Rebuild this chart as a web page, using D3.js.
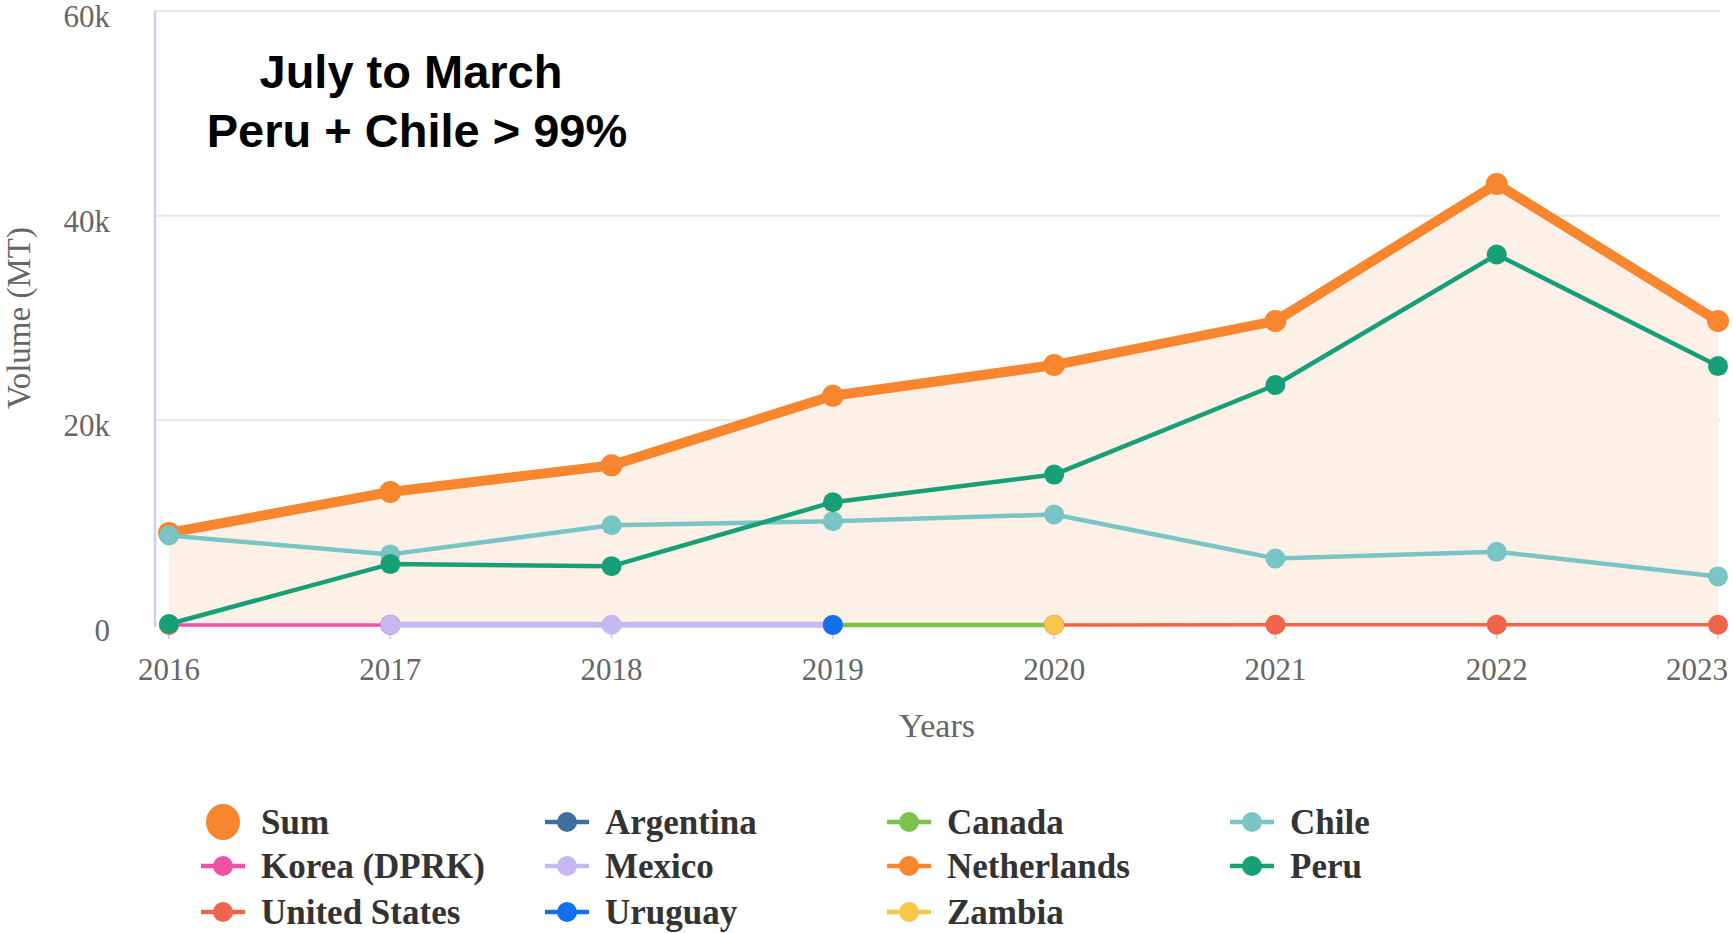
<!DOCTYPE html>
<html><head><meta charset="utf-8">
<script src="https://cdn.jsdelivr.net/npm/d3@7"></script>
<style>html,body{margin:0;padding:0;background:#fff;}svg{display:block;}</style>
</head><body>
<svg id="c" width="1733" height="933"></svg>
<script>
const years = [2016, 2017, 2018, 2019, 2020, 2021, 2022, 2023];
const yTicks = [0, 20000, 40000, 60000];
const sumVals = [9000, 13000, 15600, 22400, 25400, 29700, 43100, 29700];
const argentina = [null, 30, null, null, null, null, null, null];
const canada = [null, null, null, 10, 10, null, null, null];
const chile = [8750, 6900, 9750, 10150, 10800, 6500, 7150, 4750];
const korea = [0, 0, null, null, null, null, null, null];
const mexico = [null, 20, 20, 20, null, null, null, null];
const netherlands = [40, null, null, null, null, null, null, null];
const peru = [100, 5950, 5750, 12000, 14700, 23450, 36200, 25300];
const unitedStates = [null, null, null, null, 10, 20, 30, 20];
const uruguay = [null, null, null, 10, null, null, null, null];
const zambia = [null, null, null, null, 10, null, null, null];

const series = [
  {name: "Sum", values: sumVals, color: "#f7862f", lw: 10, r: 11},
  {name: "Argentina", values: argentina, color: "#3d6f9e", lw: 4.5, r: 10},
  {name: "Canada", values: canada, color: "#7cc24f", lw: 4.5, r: 10},
  {name: "Chile", values: chile, color: "#79c5c5", lw: 4.5, r: 10},
  {name: "Korea (DPRK)", values: korea, color: "#ec52a8", lw: 3.5, r: 10},
  {name: "Mexico", values: mexico, color: "#c6b9f2", lw: 6, r: 10},
  {name: "Netherlands", values: netherlands, color: "#f7862f", lw: 4.5, r: 10},
  {name: "Peru", values: peru, color: "#17a077", lw: 4.5, r: 10},
  {name: "United States", values: unitedStates, color: "#f0644c", lw: 3.5, r: 10},
  {name: "Uruguay", values: uruguay, color: "#1170ea", lw: 4.5, r: 10},
  {name: "Zambia", values: zambia, color: "#f8c64b", lw: 4.5, r: 10}
];
const legendOrder = ["Sum","Argentina","Canada","Chile","Korea (DPRK)","Mexico","Netherlands","Peru","United States","Uruguay","Zambia"];

const svg = d3.select("#c");
const x = d3.scalePoint().domain(years).range([169, 1718]);
const y = d3.scaleLinear().domain([0, 60000]).range([625, 11]);
const plotLeft = 155, plotRight = 1720;

// gridlines
svg.append("g").selectAll("line").data(yTicks.filter(d => d > 0)).join("line")
  .attr("x1", plotLeft).attr("x2", plotRight)
  .attr("y1", d => y(d)).attr("y2", d => y(d))
  .attr("stroke", "#e6e6e6").attr("stroke-width", 2);

// y axis line
svg.append("line").attr("x1", plotLeft).attr("x2", plotLeft)
  .attr("y1", y(60000)).attr("y2", y(0) + 2)
  .attr("stroke", "#c8d2e6").attr("stroke-width", 2.5);

// y tick labels
svg.append("g").selectAll("text").data(yTicks).join("text")
  .attr("x", 110).attr("y", d => y(d) + 5).attr("dy", "0.35em")
  .attr("text-anchor", "end")
  .attr("font-family", "Liberation Serif, Times New Roman, serif")
  .attr("font-size", 31).attr("fill", "#666")
  .text(d => d === 0 ? "0" : (d / 1000) + "k");

// x ticks
svg.append("g").selectAll("line").data(years).join("line")
  .attr("x1", d => x(d)).attr("x2", d => x(d))
  .attr("y1", y(0)).attr("y2", y(0) + 14)
  .attr("stroke", "#ccd6eb").attr("stroke-width", 2);

svg.append("g").selectAll("text").data(years).join("text")
  .attr("x", d => x(d)).attr("y", 680)
  .attr("text-anchor", (d, i) => i === years.length - 1 ? "end" : "middle")
  .attr("dx", (d, i) => i === years.length - 1 ? 10 : 0)
  .attr("font-family", "Liberation Serif, Times New Roman, serif")
  .attr("font-size", 31).attr("fill", "#666")
  .text(d => d);

// axis titles
svg.append("text").attr("x", 937).attr("y", 737).attr("text-anchor", "middle")
  .attr("font-family", "Liberation Serif, Times New Roman, serif")
  .attr("font-size", 34).attr("fill", "#666").text("Years");
svg.append("text").attr("transform", "translate(30," + 318 + ") rotate(-90)")
  .attr("text-anchor", "middle")
  .attr("font-family", "Liberation Serif, Times New Roman, serif")
  .attr("font-size", 33).attr("fill", "#666").text("Volume (MT)");

// area under Sum
const area = d3.area().x((d, i) => x(years[i])).y0(y(0)).y1(d => y(d));
svg.append("path").datum(sumVals).attr("d", area).attr("fill", "#fdf1e7");

// series lines + markers
const line = d3.line().defined(d => d != null).x((d, i) => x(years[i])).y(d => y(d));
series.forEach(s => {
  const g = svg.append("g");
  g.append("path").datum(s.values).attr("d", line)
    .attr("fill", "none").attr("stroke", s.color).attr("stroke-width", s.lw)
    .attr("stroke-linejoin", "round").attr("stroke-linecap", "round");
  g.selectAll("circle").data(s.values.map((v, i) => ({v, i})).filter(d => d.v != null)).join("circle")
    .attr("cx", d => x(years[d.i])).attr("cy", d => y(d.v)).attr("r", s.r)
    .attr("fill", s.color);
});

// title
svg.append("text").attr("x", 411).attr("y", 88).attr("text-anchor", "middle")
  .attr("font-family", "Liberation Sans, Arial, sans-serif").attr("font-weight", "bold")
  .attr("font-size", 47).attr("fill", "#000").text("July to March");
svg.append("text").attr("x", 417).attr("y", 147).attr("text-anchor", "middle")
  .attr("font-family", "Liberation Sans, Arial, sans-serif").attr("font-weight", "bold")
  .attr("font-size", 47).attr("fill", "#000").text("Peru + Chile > 99%");

// legend
const colX = [223, 567, 909, 1252];
const rowY = [822, 866, 912];
const lg = svg.append("g");
legendOrder.forEach((name, k) => {
  const s = series.find(t => t.name === name);
  const cx = colX[k % 4], cy = rowY[Math.floor(k / 4)];
  const item = lg.append("g");
  if (name === "Sum") {
    item.append("ellipse").attr("cx", cx).attr("cy", cy).attr("rx", 17).attr("ry", 18).attr("fill", s.color);
  } else {
    item.append("line").attr("x1", cx - 22).attr("x2", cx + 22).attr("y1", cy).attr("y2", cy)
      .attr("stroke", s.color).attr("stroke-width", 4.5);
    item.append("circle").attr("cx", cx).attr("cy", cy).attr("r", 10).attr("fill", s.color);
  }
  item.append("text").attr("x", cx + 38).attr("y", cy).attr("dy", "0.35em")
    .attr("font-family", "Liberation Serif, Times New Roman, serif").attr("font-weight", "bold")
    .attr("font-size", 35).attr("fill", "#333").text(name);
});
</script>
</body></html>
